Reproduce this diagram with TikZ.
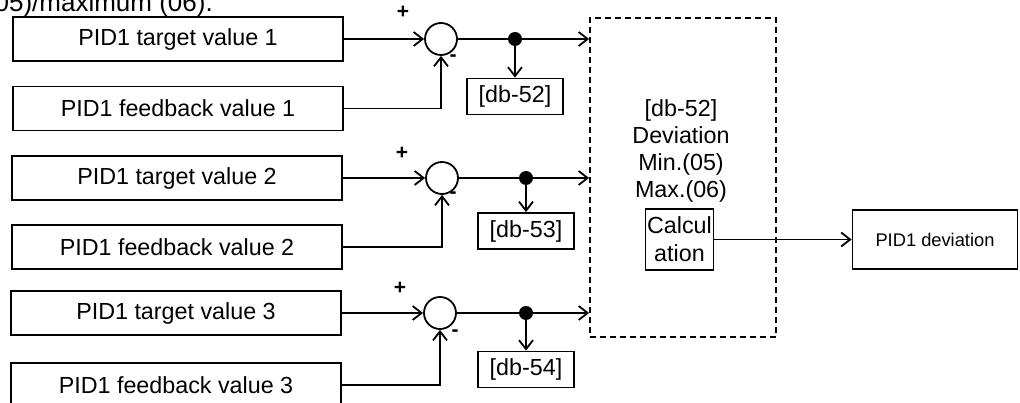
\documentclass[tikz,border=0pt]{standalone}
\usepackage{fontspec}
\setmainfont{Liberation Sans}
\usetikzlibrary{arrows.meta}
\begin{document}
\begin{tikzpicture}[x=1pt,y=-1pt,
  box/.style={draw, line width=1.8pt, minimum width=330pt, minimum height=44pt, inner sep=0pt, font=\fontsize{23.3}{27}\selectfont},
  sum/.style={draw, circle, line width=1.8pt, minimum size=32pt, inner sep=0pt},
  dbbox/.style={draw, line width=1.8pt, minimum width=96pt, minimum height=36pt, inner sep=0pt, font=\fontsize{23.3}{27}\selectfont},
  arr/.style={line width=1.8pt, -{Straight Barb[length=9pt,width=14pt,line width=1.8pt]}},
  jdot/.style={circle, fill, minimum size=14pt, inner sep=0pt},
  sign/.style={font=\fontsize{21}{21}\bfseries, inner sep=0pt},
  txt/.style={font=\fontsize{23.3}{27}\selectfont, inner sep=0pt, anchor=base},
]
\useasboundingbox (0,0) rectangle (1020,403);
\clip (0,0) rectangle (1020,403);

% caption fragment (cut off by the frame, as in the reference)
\node[font=\fontsize{26}{26}\selectfont, inner sep=0pt, anchor=base east] (cap) at (213,12) {05)/maximum (06).};

% input boxes
\node[box] (t1) at (178,39) {PID1 target value 1};
\node[box] (f1) at (178,108.5) {PID1 feedback value 1};
\node[box] (t2) at (177,178) {PID1 target value 2};
\node[box] (f2) at (177,247) {PID1 feedback value 2};
\node[box] (t3) at (176,313) {PID1 target value 3};
\node[box] (f3) at (176,385) {PID1 feedback value 3};

% summing junctions
\node[sum] (s1) at (441,39) {};
\node[sum] (s2) at (442,178) {};
\node[sum] (s3) at (440,313) {};

% signs
\node[sign] (p1) at (403,12) {+};
\node[sign] (p2) at (402,153) {+};
\node[sign] (p3) at (400,288) {+};
\node[sign] (m1) at (453,58) {-};
\node[sign] (m2) at (453,195) {-};
\node[sign] (m3) at (455,333) {-};

% monitor boxes
\node[dbbox] (db1) at (515,96.5) {[db-52]};
\node[dbbox] (db2) at (526,231) {[db-53]};
\node[dbbox] (db3) at (526,369.5) {[db-54]};

% dashed calculation group
\node[draw, line width=1.8pt, dash pattern=on 6pt off 4pt, minimum width=186pt, minimum height=319pt, inner sep=0pt] (grp) at (683,177.5) {};
\node[txt] (g1) at (681,117) {[db-52]};
\node[txt] (g2) at (681,144) {Deviation};
\node[txt] (g3) at (681,171) {Min.(05)};
\node[txt] (g4) at (681,198) {Max.(06)};
\node[draw, line width=1.8pt, minimum width=68pt, minimum height=61pt, inner sep=0pt, align=center, font=\fontsize{23.3}{28}\selectfont] (calc) at (679.5,239.5) {Calcul\\ation};

% output box
\node[draw, line width=1.8pt, minimum width=165pt, minimum height=59pt, inner sep=0pt, font=\fontsize{18.3}{22}\selectfont] (out) at (935,239.5) {PID1 deviation};

% connectors
\draw[arr] (t1.east) -- (s1.west);
\draw[arr] (t2.east) -- (s2.west);
\draw[arr] (t3.east) -- (s3.west);
\draw[arr] (f1.east) -| (s1.south);
\draw[arr] (f2.east) -| (s2.south);
\draw[arr] (f3.east) -| (s3.south);

\draw[arr] (s1.east) -- (s1 -| grp.west);
\draw[arr] (s2.east) -- (s2 -| grp.west);
\draw[arr] (s3.east) -- (s3 -| grp.west);

\node[jdot] (d1) at (515,39) {};
\node[jdot] (d2) at (526,178) {};
\node[jdot] (d3) at (526,313) {};
\draw[arr] (d1.center) -- (db1.north);
\draw[arr] (d2.center) -- (db2.north);
\draw[arr] (d3.center) -- (db3.north);

\draw[arr] (calc.east) -- (out.west);
\end{tikzpicture}
\end{document}
